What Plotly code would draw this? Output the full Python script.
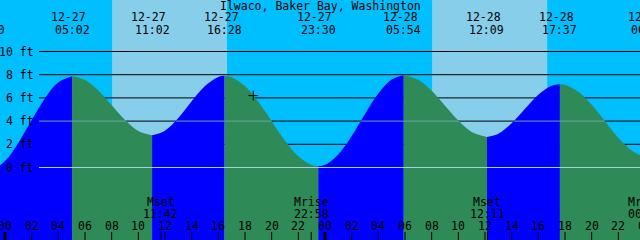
import plotly.graph_objects as go

# ---- data (hours from 12-27 00:00, heights in ft) ----
ext_t = [-1.333, 5.033, 11.033, 16.467, 23.5, 29.9, 36.15, 41.617, 48.3]
ext_h = [-0.30, 7.87, 2.78, 7.90, 0.11, 7.96, 2.64, 7.18, 0.90]
ext_date = ["12-26", "12-27", "12-27", "12-27", "12-27", "12-28", "12-28", "12-28", "12-29"]
ext_time = ["22:40", "05:02", "11:02", "16:28", "23:30", "05:54", "12:09", "17:37", "00:18"]
ext_kind = ["L", "H", "L", "H", "L", "H", "L", "H", "L"]

hour_t = [-1, 0, 1, 2, 3, 4, 6, 7, 8, 9, 10, 12, 13, 14, 15, 16, 17, 18, 19, 20, 21, 22, 23,
          24, 25, 26, 27, 28, 29, 31, 32, 33, 34, 35, 37, 38, 39, 40, 41, 42, 43, 44, 45, 46, 47, 48]
hour_h = [-0.25, 0.55, 2.12, 4.09, 5.98, 7.35, 7.55, 6.64, 5.37, 4.09, 3.14, 3.17, 4.26, 5.71, 7.03,
          7.81, 7.79, 7.02, 5.66, 3.98, 2.30, 0.96, 0.21, 0.23, 1.13, 2.71, 4.61, 6.37, 7.58, 7.56,
          6.61, 5.33, 4.05, 3.07, 2.91, 3.81, 5.06, 6.27, 7.04, 7.13, 6.54, 5.41, 3.98, 2.56, 1.47, 0.93]

day_start = [8.033, 32.033]
day_end = [16.65, 40.667]

moon_t = [11.7, 22.967, 36.183, 48.0]
moon_kind = ["Mset", "Mrise", "Mset", "Mrise"]
moon_time = ["11:42", "22:58", "12:11", "00:00"]

tick_t = list(range(0, 50, 2))
tick_lbl = ["%02d" % (t % 24) for t in tick_t]

depth_levels = [0, 2, 4, 6, 8, 10]
depth_lbl = ["%d ft" % d for d in depth_levels]

datum_h = 0
msl_h = 4
msl_wet = [(1.96, 9.08), (12.80, 19.99), (26.68, 34.04), (38.17, 44.99)]

now_t = 18.62
now_h = 6.2

title = "Ilwaco, Baker Bay, Washington"

# ---- style ----
W, H = 640, 240
XR = [-0.375, 47.625]
YR = [-6.25, 14.44]
NIGHT = "#00BFFF"
DAY = "#87CEEB"
FLOOD = "#0000FF"
EBB = "#2E8B57"
DATUM_C = "#A8D0E4"
MSL_C = "#6F9FB0"
FONT = dict(family="DejaVu Sans Mono", size=11.5, color="black")
LINE_X0 = 39 / W


def xp(t):
    return (t - XR[0]) / (XR[1] - XR[0])


def yp(pix):
    return 1 - pix / H


fig = go.Figure()

# water segments
pts = sorted(list(zip(ext_t, ext_h)) + list(zip(hour_t, hour_h)))
for i in range(len(ext_t) - 1):
    a, b = ext_t[i], ext_t[i + 1]
    seg = [p for p in pts if a <= p[0] <= b]
    col = FLOOD if ext_kind[i] == "L" else EBB
    fig.add_trace(go.Scatter(x=[a, b], y=[YR[0], YR[0]], mode="lines",
                             line=dict(width=0), hoverinfo="skip", showlegend=False))
    fig.add_trace(go.Scatter(x=[p[0] for p in seg], y=[p[1] for p in seg], mode="lines",
                             line=dict(width=0, shape="spline", color=col), fill="tonexty",
                             fillcolor=col, hoverinfo="skip", showlegend=False))

# now marker
fig.add_trace(go.Scatter(x=[now_t], y=[now_h], mode="markers",
                         marker=dict(symbol="cross-thin", size=7, line=dict(width=1, color="black")),
                         hoverinfo="skip", showlegend=False))

shapes = []
for s, e in zip(day_start, day_end):
    shapes.append(dict(type="rect", xref="x", yref="paper", x0=s, x1=e, y0=0, y1=1,
                       fillcolor=DAY, line=dict(width=0), layer="below"))
for d in depth_levels:
    shapes.append(dict(type="line", xref="paper", yref="y", x0=LINE_X0, x1=1, y0=d, y1=d,
                       line=dict(color="black", width=1), layer="below"))
shapes.append(dict(type="line", xref="paper", yref="y", x0=LINE_X0, x1=1, y0=datum_h, y1=datum_h,
                   line=dict(color=DATUM_C, width=1), layer="above"))
line_t0 = XR[0] + LINE_X0 * (XR[1] - XR[0])
for s, e in msl_wet:
    shapes.append(dict(type="line", xref="x", yref="y", x0=max(s, line_t0), x1=e, y0=msl_h, y1=msl_h,
                       line=dict(color=MSL_C, width=1), layer="above"))
for t in tick_t:
    shapes.append(dict(type="line", xref="x", yref="paper", x0=t, x1=t, y0=0, y1=8 / H,
                       line=dict(color="black", width=3 if t % 24 == 0 else 1), layer="above"))
for t in moon_t:
    shapes.append(dict(type="line", xref="x", yref="paper", x0=t, x1=t, y0=0, y1=8 / H,
                       line=dict(color="black", width=1), layer="above"))

ann = []
ann.append(dict(text=title, xref="paper", yref="paper", x=0.5, y=yp(6), showarrow=False,
                xanchor="center", yanchor="middle", font=FONT))
for t, d, tm in zip(ext_t, ext_date, ext_time):
    ann.append(dict(text=d, xref="paper", yref="paper", x=xp(t), y=yp(17.5), xshift=-3.5,
                    showarrow=False, xanchor="center", yanchor="middle", font=FONT))
    ann.append(dict(text=tm, xref="paper", yref="paper", x=xp(t), y=yp(29.5),
                    showarrow=False, xanchor="center", yanchor="middle", font=FONT))
for d, lbl in zip(depth_levels, depth_lbl):
    ann.append(dict(text=lbl, xref="paper", yref="y", x=35.5 / W, y=d, showarrow=False,
                    xanchor="right", yanchor="middle", font=FONT))
for t, k, tm in zip(moon_t, moon_kind, moon_time):
    ann.append(dict(text=k, xref="paper", yref="paper", x=xp(t), y=yp(201.5),
                    showarrow=False, xanchor="center", yanchor="middle", font=FONT))
    ann.append(dict(text=tm, xref="paper", yref="paper", x=xp(t), y=yp(213.5),
                    showarrow=False, xanchor="center", yanchor="middle", font=FONT))
for t, lbl in zip(tick_t, tick_lbl):
    ann.append(dict(text=lbl, xref="paper", yref="paper", x=xp(t), y=yp(225.5),
                    showarrow=False, xanchor="center", yanchor="middle", font=FONT))

fig.update_layout(
    width=W, height=H, autosize=False,
    margin=dict(l=0, r=0, t=0, b=0, pad=0),
    paper_bgcolor=NIGHT, plot_bgcolor=NIGHT,
    xaxis=dict(range=XR, visible=False, fixedrange=True),
    yaxis=dict(range=YR, visible=False, fixedrange=True),
    shapes=shapes, annotations=ann, showlegend=False,
)
fig.write_html("out.html", config={"displayModeBar": False})
